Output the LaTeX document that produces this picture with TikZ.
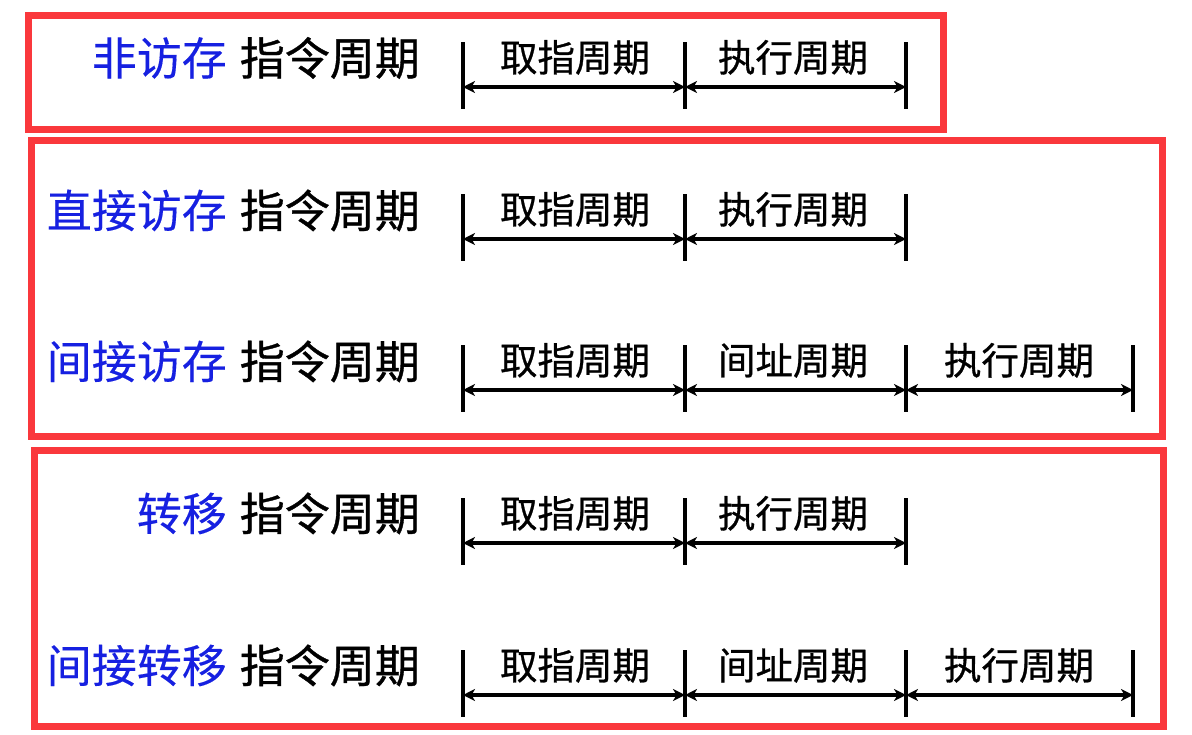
\documentclass[tikz,border=0pt]{standalone}
\usepackage{fontspec}
\newfontfamily\cjk{Noto Sans CJK SC}[FakeBold=0.3]
\newfontfamily\cjkb{Noto Sans CJK SC}[FakeBold=0.8]
\usetikzlibrary{arrows.meta}
\definecolor{boxred}{RGB}{250,56,60}
\definecolor{kwblue}{RGB}{22,32,225}
\begin{document}
\begin{tikzpicture}[x=1pt,y=-1pt,
  redbox/.style={draw=boxred,line width=7pt},
  rowlabel/.style={font=\cjkb\fontsize{45}{48}\selectfont,anchor=base east,inner sep=0pt},
  phase/.style={font=\cjkb\fontsize{37.5}{40}\selectfont,anchor=base,inner sep=0pt},
  ticklinev/.style={line width=4pt},
  cycspan/.style={line width=3.5pt,{Stealth[length=12pt,width=12pt,inset=3.5pt]}-{Stealth[length=12pt,width=12pt,inset=3.5pt]}}
]
\useasboundingbox (0,0) rectangle (1192,734);
\fill[white] (0,0) rectangle (1192,734);

% boxes
\draw[redbox] (28.5,15.7) rectangle (943,129.3);
\draw[redbox] (31.5,140) rectangle (1162.5,436);
\draw[redbox] (34.5,450.5) rectangle (1163,726.5);

% ---------- row 1 (y0 = 42)
\node[rowlabel] (l1) at (420,75) {\textcolor{kwblue}{\cjk 非访存}\hspace{13pt}指令周期};
\coordinate (a1) at (463,87); \coordinate (b1) at (685,87); \coordinate (c1) at (906,87);
\foreach \p in {a1,b1,c1} \draw[ticklinev] (\p) ++(0,-45) -- ++(0,67);
\draw[cycspan] (a1) -- (b1);
\draw[cycspan] (b1) -- (c1);
\node[phase] (p11) at (575,71.5) {取指周期};
\node[phase] (p12) at (793,71.5) {执行周期};

% ---------- row 2 (y0 = 194)
\node[rowlabel] (l2) at (420,227.5) {\textcolor{kwblue}{\cjk 直接访存}\hspace{13pt}指令周期};
\coordinate (a2) at (463,239); \coordinate (b2) at (685,239); \coordinate (c2) at (906,239);
\foreach \p in {a2,b2,c2} \draw[ticklinev] (\p) ++(0,-45) -- ++(0,67);
\draw[cycspan] (a2) -- (b2);
\draw[cycspan] (b2) -- (c2);
\node[phase] (p21) at (575,223.5) {取指周期};
\node[phase] (p22) at (793,223.5) {执行周期};

% ---------- row 3 (y0 = 345)
\node[rowlabel] (l3) at (420,378.5) {\textcolor{kwblue}{\cjk 间接访存}\hspace{13pt}指令周期};
\coordinate (a3) at (463,390); \coordinate (b3) at (685,390); \coordinate (c3) at (906,390); \coordinate (d3) at (1133,390);
\foreach \p in {a3,b3,c3,d3} \draw[ticklinev] (\p) ++(0,-45) -- ++(0,67);
\draw[cycspan] (a3) -- (b3);
\draw[cycspan] (b3) -- (c3);
\draw[cycspan] (c3) -- (d3);
\node[phase] (p31) at (575,374.5) {取指周期};
\node[phase] (p32) at (793,374.5) {间址周期};
\node[phase] (p33) at (1019,374.5) {执行周期};

% ---------- row 4 (y0 = 498)
\node[rowlabel] (l4) at (420,530.5) {\textcolor{kwblue}{\cjk 转移}\hspace{13pt}指令周期};
\coordinate (a4) at (463,543); \coordinate (b4) at (685,543); \coordinate (c4) at (906,543);
\foreach \p in {a4,b4,c4} \draw[ticklinev] (\p) ++(0,-45) -- ++(0,67);
\draw[cycspan] (a4) -- (b4);
\draw[cycspan] (b4) -- (c4);
\node[phase] (p41) at (575,527.5) {取指周期};
\node[phase] (p42) at (793,527.5) {执行周期};

% ---------- row 5 (y0 = 650)
\node[rowlabel] (l5) at (420,682.5) {\textcolor{kwblue}{\cjk 间接转移}\hspace{13pt}指令周期};
\coordinate (a5) at (463,695); \coordinate (b5) at (685,695); \coordinate (c5) at (906,695); \coordinate (d5) at (1133,695);
\foreach \p in {a5,b5,c5,d5} \draw[ticklinev] (\p) ++(0,-45) -- ++(0,67);
\draw[cycspan] (a5) -- (b5);
\draw[cycspan] (b5) -- (c5);
\draw[cycspan] (c5) -- (d5);
\node[phase] (p51) at (575,679.5) {取指周期};
\node[phase] (p52) at (793,679.5) {间址周期};
\node[phase] (p53) at (1019,679.5) {执行周期};
\end{tikzpicture}
\end{document}
